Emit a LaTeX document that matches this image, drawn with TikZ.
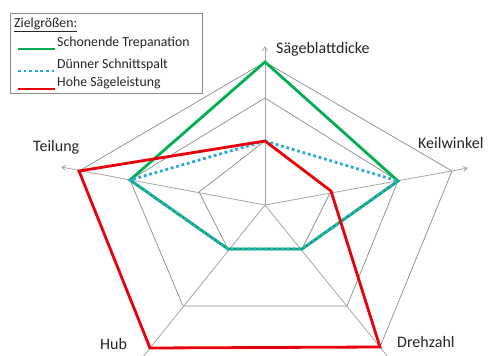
\documentclass[tikz,border=0pt]{standalone}
\usepackage{fontspec}
\setmainfont{Carlito}
\usetikzlibrary{arrows.meta}
\definecolor{cgreen}{HTML}{00B050}
\definecolor{ccyan}{HTML}{2CA8DC}
\definecolor{cred}{HTML}{E8000B}
\definecolor{caxis}{HTML}{A6A6A6}
\definecolor{cring}{HTML}{8C8C8C}
\definecolor{ctext}{HTML}{262626}
\tikzset{
  axisline/.style={draw=caxis,line width=0.8pt,-{Straight Barb[length=4pt,width=5pt]}},
  ringline/.style={draw=cring,line width=0.7pt},
  greenser/.style={draw=cgreen,line width=2.8pt},
  cyanser/.style={draw=ccyan,line width=2.8pt,dash pattern=on 2.8pt off 2.8pt},
  redser/.style={draw=cred,line width=2.8pt},
  lbl/.style={font=\fontsize{16}{18}\selectfont,text=ctext,inner sep=0pt},
  leg/.style={font=\fontsize{13.8}{16}\selectfont,text=ctext,inner sep=0pt,anchor=west},
}
\begin{document}
\begin{tikzpicture}[x=1pt,y=-1pt]
\useasboundingbox (0,0) rectangle (490,356);
\clip (0,0) rectangle (490,356);
\fill[white] (0,0) rectangle (490,356);
% center and axis vertices
\coordinate (C) at (265,205);
\coordinate (O1) at (265,62);
\coordinate (O2) at (452,171);
\coordinate (O3) at (380,347);
\coordinate (O4) at (150,348);
\coordinate (O5) at (79,171);
\coordinate (M1) at (265,98);
\coordinate (M2) at (398,181);
\coordinate (M3) at (347,306);
\coordinate (M4) at (183,306);
\coordinate (M5) at (130,180);
\coordinate (I1) at (265,141);
\coordinate (I2) at (331,191);
\coordinate (I3) at (302,249);
\coordinate (I4) at (228,249);
\coordinate (I5) at (199,192);
\coordinate (T1) at (265,46);
\coordinate (T2) at (468,168);
\coordinate (T3) at (392,362);
\coordinate (T4) at (138,363);
\coordinate (T5) at (61,167);
% rings
\draw[ringline] (O1) -- (O2) -- (O3) -- (O4) -- (O5) -- cycle;
\draw[ringline] (M1) -- (M2) -- (M3) -- (M4) -- (M5) -- cycle;
\draw[ringline] (I1) -- (I2) -- (I3) -- (I4) -- (I5) -- cycle;
% axes
\draw[axisline] (C) -- (T1);
\draw[axisline] (C) -- (T2);
\draw[axisline] (C) -- (T3);
\draw[axisline] (C) -- (T4);
\draw[axisline] (C) -- (T5);
% series
\draw[greenser] (O1) -- (M2) -- (I3) -- (I4) -- (M5) -- cycle;
\draw[cyanser] (I1) -- (M2) -- (I3) -- (I4) -- (M5) -- cycle;
\draw[redser] (I1) -- (I2) -- (O3) -- (O4) -- (O5) -- cycle;
% axis labels
\node[lbl,anchor=west] (l1) at (276,49) {Sägeblattdicke};
\node[lbl,anchor=west] (l2) at (418,143) {Keilwinkel};
\node[lbl,anchor=west] (l3) at (397,342) {Drehzahl};
\node[lbl,anchor=west] (l4) at (100,344) {Hub};
\node[lbl,anchor=west] (l5) at (33,147) {Teilung};
% legend
\node[draw=cring,line width=0.8pt,fill=white,minimum width=192pt,minimum height=80pt,anchor=north west,inner sep=0pt] (legbox) at (10,13) {};
\node[leg] (lt) at (14,25) {\underline{Zielgrößen:}};
\coordinate (g1) at (18,49);
\coordinate (g2) at (55,49);
\coordinate (c1) at (18,71);
\coordinate (c2) at (55,71);
\coordinate (r1) at (18,89);
\coordinate (r2) at (55,89);
\draw[greenser] (g1) -- (g2);
\draw[cyanser] (c1) -- (c2);
\draw[redser] (r1) -- (r2);
\node[leg] (lg) at (57,43) {Schonende Trepanation};
\node[leg] (lc) at (57,65) {Dünner Schnittspalt};
\node[leg] (lr) at (57,83) {Hohe Sägeleistung};
\end{tikzpicture}
\end{document}
